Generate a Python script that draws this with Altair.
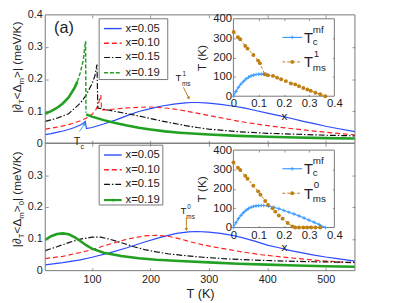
import altair as alt
import pandas as pd

# ---------------- data ----------------
# top panel: |d_T <Delta_m>|  (meV/K) vs T (K)
T_A05 = [20, 30, 40, 50, 60, 70, 80, 86, 88.5, 90.5, 100, 120, 140, 160, 180, 200, 220, 240, 260, 270,
         280, 300, 320, 340, 360, 380, 400, 420, 440, 460, 480, 500, 520, 550]
V_A05 = [0.027, 0.030, 0.034, 0.038, 0.043, 0.049, 0.057, 0.064, 0.068, 0.046, 0.049, 0.060, 0.072, 0.086,
         0.099, 0.108, 0.116, 0.122, 0.126, 0.127, 0.127, 0.125, 0.121, 0.116, 0.110, 0.102, 0.094, 0.086,
         0.078, 0.069, 0.061, 0.053, 0.046, 0.036]
T_A10 = [20, 40, 60, 80, 90, 100, 106, 111, 115, 116.5, 125, 140, 160, 180, 195, 210, 230, 250, 270, 290,
         310, 330, 350, 370, 400, 430, 460, 490, 520, 550]
V_A10 = [0.044, 0.050, 0.058, 0.070, 0.078, 0.090, 0.102, 0.122, 0.150, 0.104, 0.104, 0.107, 0.110, 0.112,
         0.113, 0.112, 0.109, 0.104, 0.097, 0.090, 0.083, 0.076, 0.069, 0.063, 0.055, 0.048, 0.042, 0.036,
         0.031, 0.026]
T_A15 = [20, 40, 60, 80, 90, 100, 105, 108.5, 110, 120, 140, 160, 180, 200, 220, 240, 260, 280, 300, 350,
         400, 450, 500, 550]
V_A15 = [0.068, 0.078, 0.092, 0.125, 0.150, 0.185, 0.210, 0.245, 0.110, 0.106, 0.099, 0.092, 0.085, 0.077,
         0.069, 0.062, 0.055, 0.049, 0.044, 0.036, 0.031, 0.028, 0.025, 0.023]
T_A19_PRE = [20, 30, 40, 50, 60, 70, 75]
V_A19_PRE = [0.092, 0.100, 0.110, 0.124, 0.143, 0.172, 0.192]
T_A19_SPK = [75, 80, 85, 89, 89.8]
V_A19_SPK = [0.192, 0.220, 0.258, 0.318, 0.095]
T_A19_POST = [90, 100, 120, 140, 160, 180, 200, 225, 250, 300, 350, 400, 450, 500, 550]
V_A19_POST = [0.090, 0.083, 0.072, 0.063, 0.055, 0.048, 0.043, 0.037, 0.033, 0.027, 0.023, 0.020, 0.018,
              0.016, 0.015]

# bottom panel: |d_T <Delta_m>_0|
T_B05 = [20, 50, 80, 100, 130, 160, 190, 220, 245, 265, 280, 300, 320, 340, 360, 380, 400, 420, 440, 460,
         480, 500, 520, 550]
V_B05 = [0.018, 0.025, 0.034, 0.042, 0.056, 0.072, 0.090, 0.106, 0.117, 0.122, 0.123, 0.121, 0.117, 0.111,
         0.102, 0.092, 0.080, 0.072, 0.063, 0.056, 0.049, 0.043, 0.038, 0.030]
T_B10 = [20, 50, 80, 100, 130, 160, 190, 210, 230, 250, 270, 290, 310, 334, 360, 390, 420, 446, 480, 510, 550]
V_B10 = [0.038, 0.045, 0.057, 0.066, 0.083, 0.099, 0.109, 0.111, 0.108, 0.100, 0.090, 0.081, 0.074, 0.066,
         0.058, 0.050, 0.044, 0.039, 0.033, 0.029, 0.024]
T_B15 = [20, 40, 60, 80, 100, 115, 130, 150, 170, 190, 210, 230, 260, 290, 330, 380, 430, 480, 550]
V_B15 = [0.063, 0.075, 0.088, 0.099, 0.105, 0.105, 0.099, 0.088, 0.076, 0.066, 0.059, 0.053, 0.047, 0.042,
         0.037, 0.033, 0.030, 0.028, 0.026]
T_B19 = [20, 30, 40, 50, 60, 70, 80, 90, 100, 120, 150, 180, 210, 250, 300, 350, 400, 450, 500, 550]
V_B19 = [0.097, 0.108, 0.115, 0.117, 0.114, 0.105, 0.093, 0.080, 0.069, 0.056, 0.046, 0.039, 0.034, 0.030,
         0.026, 0.022, 0.019, 0.016, 0.014, 0.012]

# insets: T (K) vs x
X_TC_TOP = [0, 0.01, 0.02, 0.03, 0.04, 0.05, 0.06, 0.07, 0.08, 0.09, 0.10, 0.11, 0.12, 0.13]
T_TC_TOP = [0, 25, 46, 63, 77, 89, 98, 105, 109, 112, 113, 114, 114, 113]
X_TMS1 = [0.001, 0.018, 0.027, 0.047, 0.056, 0.079, 0.098, 0.105, 0.124, 0.137, 0.157, 0.173, 0.189, 0.208,
          0.228, 0.245, 0.26, 0.277, 0.293, 0.306, 0.325, 0.344, 0.364]
T_TMS1 = [332, 305, 294, 260, 246, 213, 184, 170, 113, 108, 105, 96, 88, 78, 66, 61, 52, 42, 35, 28, 18, 10, 0]
X_TC_BOT = [0, 0.01, 0.02, 0.03, 0.04, 0.05, 0.06, 0.07, 0.08, 0.09, 0.10, 0.11, 0.12, 0.14, 0.16, 0.18,
            0.20, 0.22, 0.24, 0.26, 0.28, 0.30, 0.32, 0.34, 0.364]
T_TC_BOT = [0, 25, 46, 63, 77, 89, 98, 105, 109, 112, 113, 114, 114, 111, 105, 97, 88, 79, 70, 60, 49, 38,
            27, 15, 0]
X_TMS0 = [0, 0.018, 0.027, 0.047, 0.056, 0.079, 0.098, 0.107, 0.126, 0.137, 0.155, 0.166, 0.18, 0.195,
          0.215, 0.234, 0.245, 0.26, 0.277, 0.292, 0.308, 0.325, 0.344]
T_TMS0 = [336, 309, 297, 267, 252, 216, 187, 170, 137, 117, 99, 82, 62, 46, 23, 5, 0, 0, 0, 0, 0, 0, 0]

LEGEND_LABELS = ["x=0.05", "x=0.10", "x=0.15", "x=0.19"]
MAIN_Y_TICKS = [0, 0.1, 0.2, 0.3, 0.4]
MAIN_X_TICKS = [100, 200, 300, 400, 500]
INSET_X_TICKS = [0, 0.1, 0.2, 0.3, 0.4]
INSET_Y_TICKS = [0, 100, 200, 300, 400]

# ---------------- layout / style ----------------
FONT = "Liberation Sans"
W, H, HT = 316, 261, 131
IX0, IX1 = 192, 295
BLUE, RED, BLACK, GREEN = "#2a4bff", "#ff2020", "#111111", "#22a022"
LBLUE, BROWN, FRAME = "#3d9cff", "#c07f12", "#777777"
DASH_R, DASH_K, DASH_G = [5, 3], [6, 2, 1.5, 2], [4, 2]
DEC = "datum.value == 0 ? '0' : format(datum.value, '.1f')"
INT = "format(datum.value, 'd')"

XT = alt.Scale(domain=[20, 550], range=[0, W])
YT = alt.Scale(domain=[0, 0.4], range=[HT, 0])
YB = alt.Scale(domain=[0, 0.4], range=[H, HT])
XI = alt.Scale(domain=[0, 0.4], range=[IX0, IX1])
YIT = alt.Scale(domain=[0, 400], range=[83, 4])
YIB = alt.Scale(domain=[0, 400], range=[217, 138])

ONE = pd.DataFrame({"k": [0]})


def tick_axis(orient, offset, values, size=3):
    return alt.Axis(orient=orient, offset=offset, values=values, labels=False, ticks=True, tickSize=size,
                    tickColor=FRAME, tickWidth=0.8, domain=False, grid=False, title=None, zindex=1)


def label_axis(orient, offset, values, expr, title=None, size=11, pad=3, tpad=3, tsize=12):
    kw = dict(orient=orient, offset=offset, values=values, labelExpr=expr, ticks=False, labelPadding=pad,
              labelFontSize=size, labelOverlap=False, labelFlush=False, domain=False, grid=False, zindex=1)
    if title:
        kw.update(title=title, titleFontSize=tsize, titlePadding=tpad)
    else:
        kw.update(title=None)
    return alt.Axis(**kw)


def line(xs, ys, xsc, ysc, color, width=1.2, dash=None, xaxis=None, yaxis=None):
    df = pd.DataFrame({"a": xs, "b": ys})
    kw = dict(color=color, strokeWidth=width)
    if dash:
        kw["strokeDash"] = dash
    return alt.Chart(df).mark_line(**kw).encode(
        x=alt.X("a:Q", scale=xsc, axis=xaxis), y=alt.Y("b:Q", scale=ysc, axis=yaxis))


def points(xs, ys, xsc, ysc, color, shape, size, filled, xaxis=None, yaxis=None):
    df = pd.DataFrame({"a": xs, "b": ys})
    return alt.Chart(df).mark_point(shape=shape, size=size, filled=filled, color=color, strokeWidth=1,
                                    opacity=1).encode(
        x=alt.X("a:Q", scale=xsc, axis=xaxis), y=alt.Y("b:Q", scale=ysc, axis=yaxis))


def txt(s, x, y, size, color="#222", angle=0, align="left", baseline="alphabetic"):
    kw = dict(text=s, fontSize=size, color=color, align=align, baseline=baseline, font=FONT)
    if angle:
        kw["angle"] = angle
    return alt.Chart(ONE).mark_text(**kw).encode(x=alt.value(x), y=alt.value(y))


def seg(x1, y1, x2, y2, color, width=1.2, dash=None):
    kw = dict(color=color, strokeWidth=width)
    if dash:
        kw["strokeDash"] = dash
    return alt.Chart(ONE).mark_rule(**kw).encode(
        x=alt.value(x1), y=alt.value(y1), x2=alt.value(x2), y2=alt.value(y2))


def box(x1, y1, x2, y2, fill=None):
    kw = dict(stroke=FRAME, strokeWidth=1)
    if fill:
        kw["fill"] = fill
    else:
        kw.update(fill="white", fillOpacity=0)
    return alt.Chart(ONE).mark_rect(**kw).encode(
        x=alt.value(x1), y=alt.value(y1), x2=alt.value(x2), y2=alt.value(y2))


def mark_at(x, y, shape, color, size, angle=0, filled=True):
    kw = dict(shape=shape, size=size, filled=filled, color=color, opacity=1, strokeWidth=1)
    if angle:
        kw["angle"] = angle
    return alt.Chart(ONE).mark_point(**kw).encode(x=alt.value(x), y=alt.value(y))


PLUS = "M-1,0L1,0M0,-1L0,1"
YT_IN = [0.1, 0.2, 0.3]
XT_IN = MAIN_X_TICKS

layers = []
# ---- top panel curves ----
layers.append(line(T_A05, V_A05, XT, YT, BLUE, xaxis=tick_axis("top", -HT, XT_IN),
                   yaxis=label_axis("left", 0, MAIN_Y_TICKS, DEC)))
layers.append(line(T_A10, V_A10, XT, YT, RED, dash=DASH_R, xaxis=tick_axis("bottom", -H, XT_IN),
                   yaxis=tick_axis("left", -W, YT_IN)))
layers.append(line(T_A15, V_A15, XT, YT, BLACK, dash=DASH_K, yaxis=tick_axis("right", -W, YT_IN)))
layers.append(line(T_A19_PRE, V_A19_PRE, XT, YT, GREEN, width=2.6))
layers.append(line(T_A19_SPK, V_A19_SPK, XT, YT, GREEN, width=1.5, dash=DASH_G))
layers.append(line(T_A19_POST, V_A19_POST, XT, YT, GREEN, width=2.6))
# ---- bottom panel curves ----
layers.append(line(T_B05, V_B05, XT, YB, BLUE,
                   xaxis=label_axis("bottom", 0, MAIN_X_TICKS, INT, title="T (K)", pad=3, tpad=3, tsize=13),
                   yaxis=label_axis("left", 0, MAIN_Y_TICKS[:-1], DEC)))
layers.append(line(T_B10, V_B10, XT, YB, RED, dash=DASH_R, xaxis=tick_axis("top", -H, XT_IN),
                   yaxis=tick_axis("left", -W, YT_IN)))
layers.append(line(T_B15, V_B15, XT, YB, BLACK, dash=DASH_K, xaxis=tick_axis("bottom", -(H - HT), XT_IN),
                   yaxis=tick_axis("right", -W, YT_IN)))
layers.append(line(T_B19, V_B19, XT, YB, GREEN, width=2.6))

# ---- frames ----
layers.append(box(0, 0, W, HT))
layers.append(box(0, HT, W, H))

# ---- annotations ----
layers.append(seg(35, 119, 39.5, 112, LBLUE, width=1))
layers.append(mark_at(40, 111, "triangle-up", LBLUE, 14, angle=32))
layers.append(txt("T", 29, 133, 11))
layers.append(txt("c", 36, 137, 7))
layers.append(seg(141, 74, 146, 84, BROWN, width=1))
layers.append(mark_at(146.5, 85, "triangle-up", BROWN, 14, angle=153))
layers.append(txt("T", 133, 67, 10))
layers.append(txt("1", 140, 62, 6.5))
layers.append(txt("ms", 139.5, 73, 6.5))
layers.append(seg(144, 207, 144, 218, BROWN, width=1))
layers.append(mark_at(144, 219, "triangle-up", BROWN, 14, angle=180))
layers.append(txt("T", 138, 203, 10))
layers.append(txt("0", 145, 198, 6.5))
layers.append(txt("ms", 144, 208, 6.5))
layers.append(txt("(a)", 9, 19, 16.5))

# ---- main legends ----
layers.append(box(55, 4, 125, 66, fill="white"))
for yy, col, dash, wd in [(14, BLUE, None, 1.4), (29, RED, DASH_R, 1.4), (43.5, BLACK, DASH_K, 1.2),
                          (59, GREEN, DASH_G, 1.5)]:
    layers.append(seg(60, yy, 78, yy, col, width=wd, dash=dash))
for yy, lab in zip([14, 29, 43.5, 59], LEGEND_LABELS):
    layers.append(txt(lab, 82, yy, 11.5, baseline="middle"))
layers.append(box(55, 133, 120, 194, fill="white"))
for yy, col, dash, wd in [(143, BLUE, None, 1.4), (158, RED, DASH_R, 1.4), (173, BLACK, DASH_K, 1.2),
                          (189, GREEN, None, 2.2)]:
    layers.append(seg(60, yy, 78, yy, col, width=wd, dash=dash))
layers.append(mark_at(69, 189, "circle", GREEN, 8))
for yy, lab in zip([143, 158, 173, 189], LEGEND_LABELS):
    layers.append(txt(lab, 82, yy, 11.5, baseline="middle"))

# ---- insets ----
for (ysc, ylo, yhi, xtc, ttc, xms, tms, xoff_lab, sup) in [
        (YIT, 4, 83, X_TC_TOP, T_TC_TOP, X_TMS1, T_TMS1, 83 - H, "1"),
        (YIB, 138, 217, X_TC_BOT, T_TC_BOT, X_TMS0, T_TMS0, 217 - H, "0")]:
    layers.append(box(IX0, ylo, IX1, yhi, fill="white"))
    layers.append(line(xtc, ttc, XI, ysc, LBLUE, width=1.2,
                       xaxis=label_axis("bottom", xoff_lab, INSET_X_TICKS, DEC, title="x", size=11.5, pad=2,
                                        tpad=1),
                       yaxis=label_axis("left", -IX0, INSET_Y_TICKS, INT, title="T (K)", size=11.5, pad=2,
                                        tpad=4)))
    layers.append(points(xtc, ttc, XI, ysc, LBLUE, PLUS, 14, False,
                         xaxis=tick_axis("top", -yhi, [0.1, 0.2, 0.3], 2),
                         yaxis=tick_axis("right", -(W - IX0), [100, 200, 300], 2)))
    layers.append(line(xms, tms, XI, ysc, BROWN, width=1, dash=[3, 2],
                       xaxis=tick_axis("bottom", ylo - H, [0.1, 0.2, 0.3], 2),
                       yaxis=tick_axis("left", -IX1, [100, 200, 300], 2)))
    layers.append(points(xms, tms, XI, ysc, BROWN, "circle", 16, True))
    # inset legend
    ly1, ly2 = ylo + 19, ylo + 44
    layers.append(seg(242, ly1, 262, ly1, LBLUE, width=1.2))
    layers.append(mark_at(252, ly1, PLUS, LBLUE, 14, filled=False))
    layers.append(txt("T", 264, ly1 + 5.5, 15))
    layers.append(txt("mf", 273, ly1 - 5, 10))
    layers.append(txt("c", 273, ly1 + 7.5, 10))
    layers.append(seg(242, ly2, 262, ly2, BROWN, width=1, dash=[3, 2]))
    layers.append(mark_at(252, ly2, "circle", BROWN, 16))
    layers.append(txt("T", 264, ly2 + 5.5, 15))
    layers.append(txt(sup, 274, ly2 - 5, 10))
    layers.append(txt("ms", 273, ly2 + 9, 10))

# ---- rotated y titles with subscripts (each piece anchored on its own) ----
TX = -25
for y0, tail in [(100, [(">| (meV/K)", 12, 0)]),
                 (237, [(">", 12, 0), ("0", 8, 3), ("| (meV/K)", 12, 0)])]:
    pieces = [("|∂", 12, 0), ("T", 8, 3), ("<Δ", 12, 0), ("m", 8, 3)] + tail
    widths = {"|∂": 9.05, "T": 4.9, "<Δ": 15.0, "m": 6.7, ">": 7.0, "0": 4.45}
    off = 0.0
    for s, fs, shift in pieces:
        layers.append(txt(s, TX + shift, y0 - off, fs, angle=270))
        off += widths.get(s, 0)

chart = alt.layer(*layers).resolve_scale(x="independent", y="independent").properties(
    width=W, height=H, autosize=alt.AutoSizeParams(type="none"),
    padding={"left": 38, "top": 4, "right": 47, "bottom": 30},
).configure_view(stroke=None).configure_axis(
    labelFont=FONT, titleFont=FONT, titleFontWeight="normal", labelColor="#222", titleColor="#222")

chart.save("out.html", embed_options={"renderer": "svg", "actions": False})
